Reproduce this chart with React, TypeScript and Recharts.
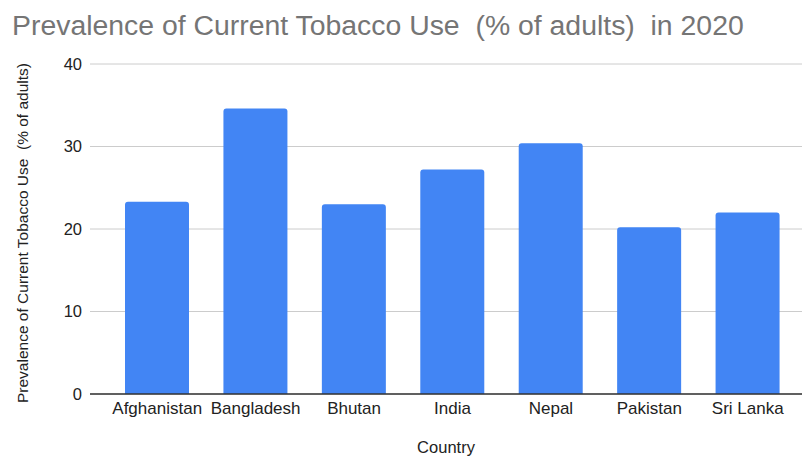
import { BarChart, Bar, XAxis, YAxis, CartesianGrid } from 'recharts';

const countries = ['Afghanistan', 'Bangladesh', 'Bhutan', 'India', 'Nepal', 'Pakistan', 'Sri Lanka'];
const tobaccoUse = [23.3, 34.6, 23.0, 27.2, 30.4, 20.2, 22.0];
const yTicks = [0, 10, 20, 30, 40];

const chartData = countries.map((country, i) => ({ country, value: tobaccoUse[i] }));

const FONT = '"Liberation Sans", Arial, sans-serif';
const yTitle = 'Prevalence of Current Tobacco Use  (% of adults)';

// rotated y-axis title, centred on the plot area
function YTitle({ viewBox }: any) {
  const cy = viewBox.y + viewBox.height / 2 + 4;
  return (
    <text
      transform={`translate(28, ${cy}) rotate(-90)`}
      textAnchor="middle"
      fontSize={15.5}
      fill="#222"
      fontFamily={FONT}
      style={{ whiteSpace: 'pre' }}
    >
      {yTitle}
    </text>
  );
}

export default function App() {
  return (
    <div style={{ position: 'absolute', left: 0, top: 0, width: 802, height: 457, background: '#fff' }}>
      <svg width={802} height={50} style={{ position: 'absolute', left: 0, top: 0 }}>
        <text x={12} y={35} fontSize={28.4} fill="#757575" fontFamily={FONT} style={{ whiteSpace: 'pre' }}>
          Prevalence of Current Tobacco Use  (% of adults)  in 2020
        </text>
      </svg>
      <BarChart
        width={802}
        height={457}
        data={chartData}
        margin={{ top: 64, right: 0, bottom: 0, left: 0 }}
        style={{ fontFamily: FONT }}
      >
        <CartesianGrid vertical={false} stroke="#cccccc" />
        <XAxis
          dataKey="country"
          height={63}
          padding={{ left: 18, right: 5 }}
          tickLine={false}
          tickSize={0}
          tickMargin={8}
          axisLine={{ stroke: '#333', strokeWidth: 1.5 }}
          tick={{ fill: '#222', fontSize: 17, fontFamily: FONT }}
          interval={0}
          label={{ value: 'Country', position: 'insideBottom', offset: 4, fill: '#222', fontSize: 16.5, fontFamily: FONT }}
        />
        <YAxis
          width={90}
          domain={[0, 40]}
          ticks={yTicks}
          tickLine={false}
          axisLine={false}
          tickSize={0}
          tickMargin={8}
          tick={{ fill: '#222', fontSize: 16.5, fontFamily: FONT }}
          label={<YTitle />}
        />
        <Bar dataKey="value" fill="#4285f4" barSize={64} radius={[3, 3, 0, 0]} isAnimationActive={false} />
      </BarChart>
    </div>
  );
}
